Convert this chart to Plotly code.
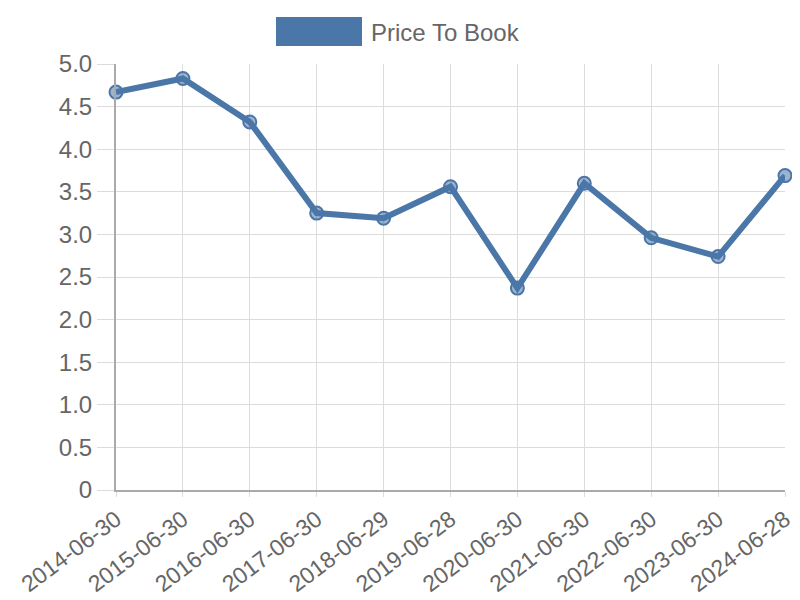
import plotly.graph_objects as go

dates = ["2014-06-30", "2015-06-30", "2016-06-30", "2017-06-30", "2018-06-29",
         "2019-06-28", "2020-06-30", "2021-06-30", "2022-06-30", "2023-06-30", "2024-06-28"]
price_to_book = [4.67, 4.83, 4.32, 3.25, 3.19, 3.56, 2.37, 3.60, 2.96, 2.74, 3.69]
series_name = "Price To Book"
y_tickvals = [0, 0.5, 1.0, 1.5, 2.0, 2.5, 3.0, 3.5, 4.0, 4.5, 5.0]
y_ticktext = ["0", "0.5", "1.0", "1.5", "2.0", "2.5", "3.0", "3.5", "4.0", "4.5", "5.0"]

blue = "#4a76a8"
font = "Liberation Sans, Arial, sans-serif"
# target plot-area box in screenshot pixels; page body adds an 8px offset
OFF = 8
L, R, T, B = 116, 785, 64, 490
PW, PH = R - L, B - T

fig = go.Figure()
fig.add_trace(go.Scatter(
    x=dates, y=price_to_book, mode="lines+markers", name=series_name,
    line=dict(color=blue, width=6),
    marker=dict(size=13, color="rgba(74,118,168,0.55)", line=dict(color=blue, width=2)),
    cliponaxis=False, showlegend=False,
))

# legend box + label
fig.add_shape(type="rect", xref="paper", yref="paper",
              x0=(276 - L) / PW, x1=(362 - L) / PW,
              y0=(B - 46) / PH, y1=(B - 17) / PH,
              fillcolor=blue, line=dict(width=0))
fig.add_annotation(xref="paper", yref="paper", x=(369 - L) / PW, y=(B - 32) / PH,
                   text=series_name, showarrow=False, xanchor="left", yanchor="middle",
                   font=dict(family=font, size=24, color="#666666"))

fig.update_layout(
    width=800, height=600,
    margin=dict(l=L - OFF, r=800 - (R - OFF), t=T - OFF, b=600 - (B - OFF), pad=0),
    paper_bgcolor="white", plot_bgcolor="white",
    font=dict(family=font, size=24, color="#666666"),
)
fig.update_xaxes(
    type="category", range=[0, len(dates) - 1], automargin=False,
    showgrid=True, gridcolor="#dcdcdc", gridwidth=1,
    ticks="outside", ticklen=5, tickcolor="#dcdcdc",
    tickangle=-37, tickfont=dict(size=23, color="#666666"),
    showline=True, linecolor="#aaaaaa", linewidth=2,
    zeroline=False,
)
fig.update_yaxes(
    range=[0, 5], tickvals=y_tickvals, ticktext=y_ticktext, automargin=False,
    showgrid=True, gridcolor="#dcdcdc", gridwidth=1,
    ticks="outside", ticklen=17, tickcolor="#dcdcdc",
    tickfont=dict(size=24, color="#666666"),
    showline=True, linecolor="#aaaaaa", linewidth=2,
    zeroline=False,
)

fig.write_html("out.html")
